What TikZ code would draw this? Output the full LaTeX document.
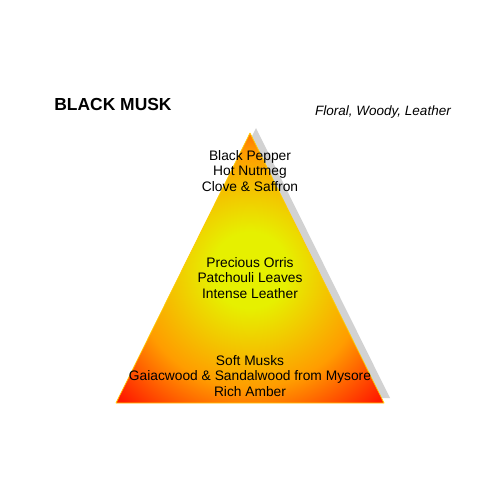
\documentclass[tikz,border=0pt]{standalone}
\usepackage{fontspec}
\setmainfont{Liberation Sans}
\definecolor{pyryellow}{HTML}{E6F000}
\definecolor{pyrorange}{HTML}{FF9C00}
\definecolor{pyrred}{HTML}{FF1A00}
\definecolor{pyredge}{HTML}{FFCC00}
\definecolor{pyrshadow}{HTML}{D2D2D2}
\pgfdeclareradialshading{pyramid}{\pgfpoint{0bp}{0bp}}{%
  color(0bp)=(pyryellow); color(5bp)=(pyryellow); color(15.5bp)=(pyrorange);
  color(24bp)=(pyrred); color(50bp)=(pyrred)}
\tikzset{
  notes/.style={align=center, font=\fontsize{9.8}{11.3}\selectfont},
}
\begin{document}
\begin{tikzpicture}[x=0.025cm, y=-0.025cm]
      \useasboundingbox (0,0) rectangle (500,500);
      \coordinate (apex) at (250,133);
      \coordinate (bl) at (116,403);
      \coordinate (br) at (384,403);
      % shadow
      \fill[pyrshadow] ([shift={(6,-5)}]apex) -- ([shift={(6,-5)}]bl)
        -- ([shift={(6,-5)}]br) -- cycle;
      % pyramid
      \begin{scope}
        \clip (apex) -- (bl) -- (br) -- cycle;
        \shade[shading=pyramid] (250,270) circle (190);
      \end{scope}
      \draw[pyredge, line width=0.5pt, line join=round] (apex) -- (bl) -- (br) -- cycle;
      \draw
        (113,104) node[font=\fontsize{12.4}{14}\selectfont\bfseries] (title){BLACK MUSK}
        (383,112) node[font=\fontsize{9.6}{11}\selectfont\itshape] (family){Floral, Woody, Leather}
        (250,171) node[notes] (top){Black Pepper\\Hot Nutmeg\\Clove \& Saffron}
        (250,278) node[notes] (heart){Precious Orris\\Patchouli Leaves\\Intense Leather}
        (250,376) node[notes] (base){Soft Musks\\Gaiacwood \& Sandalwood from Mysore\\Rich Amber};
    \end{tikzpicture}
\end{document}
